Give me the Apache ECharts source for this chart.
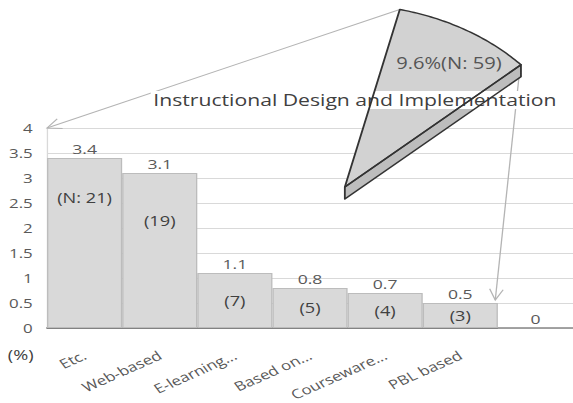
<!DOCTYPE html>
<html>
<head>
<meta charset="utf-8">
<script src="https://cdn.jsdelivr.net/npm/echarts@6/dist/echarts.min.js"></script>
<style>
  html, body { margin: 0; padding: 0; background: #ffffff; overflow: hidden; }
  #wrap { width: 573px; height: 403px; overflow: hidden; }
  /* the figure is laid out at a narrower width and widened to its printed proportions */
  #chart { width: 441px; height: 403px; transform-origin: 0 0; }
</style>
</head>
<body>
<div id="wrap"><div id="chart"></div></div>
<script>
// Breakdown of the "Instructional Design and Implementation" share
var categories = ['Etc.', 'Web-based', 'E-learning...', 'Based on...', 'Courseware...', 'PBL based', ''];
var shares = [3.4, 3.1, 1.1, 0.8, 0.7, 0.5, 0];        // percent
var counts = [21, 19, 7, 5, 4, 3, 0];                   // number of studies
var yMin = 0, yMax = 4, yStep = 0.5;                    // value axis ticks
var sliceShare = 9.6;                                    // whole-topic share (%)
var sliceCount = 59;
var titleText = 'Instructional Design and Implementation';
var unitText = '(%)';

var FONT = '"Open Sans", "Noto Sans", sans-serif';
var GREY_TEXT = '#595959';
var WIDEN = 573 / 441;

document.getElementById('chart').style.transform = 'scaleX(' + WIDEN + ')';

// Exploded pie slice: a sector of a circle with a thin side wall below it
var SLICE_CX = 265.4, SLICE_CY = 187, SLICE_R = 182.5;
var SLICE_START = 76.6, SLICE_DEPTH = 12;

function slicePoint(deg) {
  var t = deg * Math.PI / 180;
  return [SLICE_CX + SLICE_R * Math.cos(t), SLICE_CY - SLICE_R * Math.sin(t)];
}
function sliceGeometry(share) {
  var a0 = SLICE_START, a1 = SLICE_START - share / 100 * 360;
  var arc = [];
  var steps = 48;
  for (var i = 0; i <= steps; i++) arc.push(slicePoint(a0 + (a1 - a0) * i / steps));
  var apex = [SLICE_CX, SLICE_CY];
  var last = arc[arc.length - 1];
  return {
    apex: apex,
    arc: arc,
    first: arc[0],
    last: last,
    side: [apex, last, [last[0], last[1] + SLICE_DEPTH], [apex[0], apex[1] + SLICE_DEPTH]]
  };
}

var insideLabelShift = [-45, -30, 0, 0, 0, 0, 0];

var chart = echarts.init(document.getElementById('chart'), null, { renderer: 'svg' });

var option = {
  animation: false,
  backgroundColor: '#ffffff',
  textStyle: { fontFamily: FONT },
  title: {
    text: titleText,
    left: 116,
    top: 91,
    padding: [1, 2, 1, 2],
    backgroundColor: '#ffffff',
    z: 6,
    textStyle: { fontFamily: FONT, fontSize: 16.3, fontWeight: 'normal', color: '#404040' }
  },
  grid: { left: 36.2, right: 0, top: 128, bottom: 75, containLabel: false },
  xAxis: {
    type: 'category',
    data: categories,
    boundaryGap: true,
    axisLine: { show: true, lineStyle: { color: '#666666', width: 1.5 } },
    axisTick: { show: false },
    axisLabel: {
      interval: 0,
      rotate: 30,
      margin: 26,
      fontFamily: FONT,
      fontSize: 13,
      color: GREY_TEXT
    },
    splitLine: { show: false }
  },
  yAxis: {
    type: 'value',
    min: yMin,
    max: yMax,
    interval: yStep,
    axisLine: { show: true, lineStyle: { color: '#d9d9d9', width: 1 } },
    axisTick: { show: false },
    axisLabel: { margin: 11, fontFamily: FONT, fontSize: 13, color: GREY_TEXT },
    splitLine: { show: true, lineStyle: { color: '#d9d9d9', width: 1 } }
  },
  graphic: [
    {
      type: 'text',
      left: 6,
      top: 348,
      style: { text: unitText, font: '14px ' + FONT, fill: '#404040' }
    }
  ],
  series: [
    {
      name: 'share',
      type: 'bar',
      data: shares,
      barCategoryGap: '0%',
      itemStyle: { color: '#d9d9d9', borderColor: '#bcbcbc', borderWidth: 1 },
      label: {
        show: true,
        position: 'top',
        distance: 2,
        fontFamily: FONT,
        fontSize: 13.5,
        color: GREY_TEXT,
        formatter: function (p) { return String(p.value); }
      },
      z: 2
    },
    {
      name: 'count',
      type: 'bar',
      barGap: '-100%',
      barCategoryGap: '0%',
      data: shares.map(function (v, i) {
        return {
          value: v,
          label: { offset: [0, insideLabelShift[i]] }
        };
      }),
      itemStyle: { color: 'rgba(0,0,0,0)' },
      label: {
        show: true,
        position: 'inside',
        fontFamily: FONT,
        fontSize: 14,
        color: '#404040',
        formatter: function (p) {
          var n = counts[p.dataIndex];
          if (!n) return '';
          return p.dataIndex === 0 ? '(N: ' + n + ')' : '(' + n + ')';
        }
      },
      z: 3
    },
    {
      // slice faces (under the title box)
      name: 'slice-fill',
      type: 'custom',
      coordinateSystem: 'none',
      silent: true,
      z: 1,
      data: [[sliceShare, sliceCount]],
      renderItem: function (params, api) {
        var g = sliceGeometry(api.value(0));
        return {
          type: 'group',
          children: [
            { type: 'polygon', shape: { points: g.side }, style: { fill: '#bdbdbd' } },
            { type: 'polygon', shape: { points: [g.apex].concat(g.arc) }, style: { fill: '#d2d2d2' } }
          ]
        };
      }
    },
    {
      // slice outlines and its label (over the title box)
      name: 'slice-edge',
      type: 'custom',
      coordinateSystem: 'none',
      silent: true,
      z: 8,
      data: [[sliceShare, sliceCount]],
      renderItem: function (params, api) {
        var g = sliceGeometry(api.value(0));
        var edge = { stroke: '#333333', lineWidth: 1.4, fill: null, lineJoin: 'round' };
        return {
          type: 'group',
          children: [
            { type: 'polygon', shape: { points: g.side }, style: edge },
            { type: 'polygon', shape: { points: [g.apex].concat(g.arc) }, style: edge },
            {
              type: 'text',
              x: 345.5,
              y: 63,
              style: {
                text: api.value(0).toFixed(1) + '%(N: ' + api.value(1) + ')',
                font: '15.5px ' + FONT,
                fill: '#555555',
                align: 'center',
                verticalAlign: 'middle'
              }
            }
          ]
        };
      }
    }
  ]
};

chart.setOption(option);

// Leader arrows from the slice to the breakdown bars
function arrowParts(from, to) {
  var dx = to[0] - from[0], dy = to[1] - from[1];
  var len = Math.sqrt(dx * dx + dy * dy);
  var bx = -dx / len, by = -dy / len;
  var L = 12, ang = 0.45;
  function arm(s) {
    var c = Math.cos(s * ang), sn = Math.sin(s * ang);
    return [to[0] + L * (bx * c - by * sn), to[1] + L * (bx * sn + by * c)];
  }
  var st = { stroke: '#b4b4b4', lineWidth: 1, fill: null };
  return [
    { type: 'line', z: 4, silent: true, shape: { x1: from[0], y1: from[1], x2: to[0], y2: to[1] }, style: st },
    { type: 'polyline', z: 4, silent: true, shape: { points: [arm(1), to, arm(-1)] }, style: st }
  ];
}

var cx0 = chart.convertToPixel({ xAxisIndex: 0 }, categories[0]);
var cx1 = chart.convertToPixel({ xAxisIndex: 0 }, categories[1]);
var band = cx1 - cx0;
var pblIndex = 5;
var geo = sliceGeometry(sliceShare);
var tipTop = [cx0 - band / 2, chart.convertToPixel({ yAxisIndex: 0 }, yMax)];
var tipBar = [
  chart.convertToPixel({ xAxisIndex: 0 }, categories[pblIndex]) + band / 2 - 2,
  chart.convertToPixel({ yAxisIndex: 0 }, shares[pblIndex]) - 3
];
var startBottom = [geo.last[0] - 1.5, geo.last[1] + SLICE_DEPTH];

chart.setOption({
  graphic: option.graphic.concat(arrowParts(geo.first, tipTop), arrowParts(startBottom, tipBar))
});
</script>
</body>
</html>
